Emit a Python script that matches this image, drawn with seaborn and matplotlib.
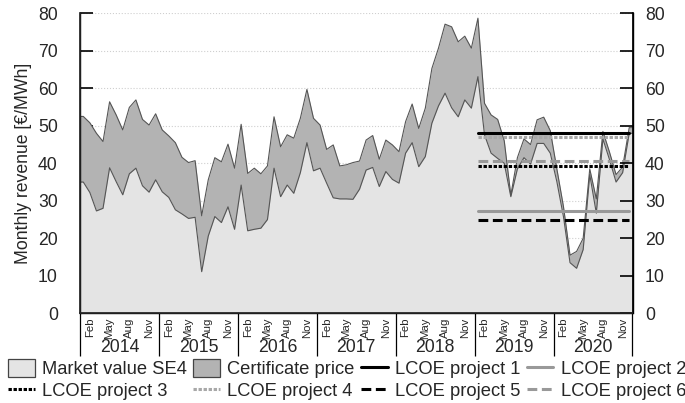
import numpy as np
import pandas as pd
import matplotlib
matplotlib.use("Agg")
import matplotlib.pyplot as plt
from matplotlib.patches import Patch
from matplotlib.lines import Line2D
import seaborn as sns

# monthly values Jan 2014 - Dec 2020 (EUR/MWh)
years = [2014, 2015, 2016, 2017, 2018, 2019, 2020]
month_labels = ["Feb", "May", "Aug", "Nov"]
month_idx = [1, 4, 7, 10]

market_value = [
    35.0, 32.2, 27.3, 28.0, 38.8, 35.1, 31.6, 37.2, 38.7, 34.0, 32.3, 35.6,
    32.4, 30.9, 27.6, 26.5, 25.3, 25.6, 11.1, 20.6, 25.8, 24.2, 28.4, 22.4,
    34.2, 22.0, 22.4, 22.7, 25.0, 38.7, 31.1, 34.2, 32.0, 37.5, 45.5, 38.0,
    38.7, 34.7, 30.8, 30.5, 30.5, 30.4, 33.1, 38.2, 38.9, 33.8, 37.8, 35.7,
    34.7, 42.7, 45.5, 39.1, 41.8, 50.7, 55.3, 58.7, 54.8, 52.4, 56.9, 54.7,
    63.1, 47.6, 42.7, 41.3, 40.0, 31.1, 38.5, 41.5, 39.8, 45.3, 45.3, 42.7,
    35.1, 25.8, 13.5, 12.0, 17.0, 37.0, 26.7, 46.5, 41.0, 35.0, 37.5, 48.0,
]
# market value + certificate price (top of stacked area)
total_value = [
    52.5, 50.8, 48.0, 45.8, 56.4, 52.9, 48.9, 54.9, 56.9, 51.7, 50.2, 53.2,
    48.9, 47.3, 45.5, 41.6, 40.2, 40.7, 26.0, 35.6, 41.5, 40.4, 45.1, 38.7,
    50.4, 37.3, 38.7, 37.2, 39.3, 52.4, 44.4, 47.6, 46.7, 52.0, 59.7, 52.0,
    50.2, 43.7, 44.9, 39.3, 39.6, 40.2, 40.6, 46.2, 47.4, 41.1, 46.2, 44.9,
    43.1, 51.1, 55.8, 49.3, 54.7, 65.3, 70.7, 77.1, 76.4, 72.4, 73.9, 70.7,
    78.7, 56.0, 52.9, 51.7, 46.0, 31.5, 41.5, 46.5, 45.0, 51.6, 52.3, 48.7,
    38.5, 28.5, 15.5, 16.5, 20.0, 38.5, 30.5, 48.5, 43.0, 37.0, 39.0, 49.5,
]

lcoe_names = ["LCOE project 1", "LCOE project 2", "LCOE project 3",
              "LCOE project 4", "LCOE project 5", "LCOE project 6"]
lcoe_values = [48.0, 27.4, 39.4, 47.1, 25.0, 40.5]
lcoe_start_year = 2019

lcoe_colors = {"LCOE project 1": "black", "LCOE project 2": "#999999",
               "LCOE project 3": "black", "LCOE project 4": "#a8a8a8",
               "LCOE project 5": "black", "LCOE project 6": "#999999"}
lcoe_dashes = {"LCOE project 1": "", "LCOE project 2": "",
               "LCOE project 3": (1.1, 0.55), "LCOE project 4": (1.1, 0.55),
               "LCOE project 5": (3.2, 1.5), "LCOE project 6": (3.2, 1.5)}

sns.set_theme(style="white")
plt.rcParams["font.family"] = ["Liberation Sans", "DejaVu Sans"]
FS = 12.7

n = len(market_value)
x = np.arange(n) + 0.5
mv = np.array(market_value)
tv = np.array(total_value)
# carry the end values out to the axis edges
xf = np.r_[0, x, n]
mvf = np.r_[mv[0], mv, mv[-1]]
tvf = np.r_[tv[0], tv, tv[-1]]

fig = plt.figure(figsize=(6.85, 4.03), dpi=100)
ax = fig.add_axes([80 / 685, 1 - 313.3 / 403, 552.5 / 685, 300 / 403])

light, dark, edge = "#e4e4e4", "#b3b3b3", "#555555"
ax.fill_between(xf, 0, mvf, color=light, lw=0)
ax.fill_between(xf, mvf, tvf, color=dark, lw=0)
sns.lineplot(x=xf, y=mvf, color=edge, lw=0.8, ax=ax)
sns.lineplot(x=xf, y=tvf, color=edge, lw=0.8, ax=ax)

start = years.index(lcoe_start_year) * 12 + 0.5
lcoe = pd.DataFrame({
    "x": np.tile([start, n - 0.5], len(lcoe_names)),
    "value": np.repeat(lcoe_values, 2),
    "project": np.repeat(lcoe_names, 2),
})
sns.lineplot(data=lcoe, x="x", y="value", hue="project", style="project",
             palette=lcoe_colors, dashes=lcoe_dashes, lw=2.2, ax=ax, legend=False)

ax.set_xlim(0, n)
ax.set_ylim(0, 80)
ax.set_yticks(range(0, 81, 10))
ax.yaxis.grid(True, ls=":", color="#cfcfcf", lw=0.8)
ax.set_axisbelow(True)
ax.tick_params(axis="y", direction="in", length=9.5, width=1.2, color="black",
               labelsize=FS, pad=16)
ax.set_ylabel("Monthly revenue [€/MWh]", fontsize=FS)
ax.yaxis.set_label_coords(-0.086, 0.5)
ax.set_xlabel("")
for s in ["left", "right", "bottom"]:
    ax.spines[s].set_color("black")
    ax.spines[s].set_linewidth(1.0)
ax.spines["top"].set_visible(False)

ax2 = ax.twinx()
ax2.set_ylim(0, 80)
ax2.set_yticks(range(0, 81, 10))
ax2.tick_params(axis="y", direction="in", length=9.5, width=1.2, color="black",
                labelsize=FS, pad=9)
ax2.spines["top"].set_visible(False)
ax2.spines["right"].set_color("black")
ax2.grid(False)

# month labels + monthly ticks
mt = [y * 12 + m + 0.5 for y in range(len(years)) for m in month_idx]
ax.set_xticks(mt)
ax.set_xticklabels(month_labels * len(years), rotation=90, fontsize=8.2)
ax.set_xticks(np.arange(0, n + 1), minor=True)
ax.tick_params(axis="x", which="major", length=0, pad=3)
ax.tick_params(axis="x", which="minor", direction="in", length=4, width=0.8,
               color="#333333", bottom=True)

# year labels + separators
sec = ax.secondary_xaxis("bottom")
sec.set_xticks(np.arange(0, n + 1, 12))
sec.set_xticklabels([])
sec.set_xticks(np.arange(6, n, 12), minor=True)
sec.set_xticklabels([str(y) for y in years], minor=True, fontsize=FS)
sec.tick_params(axis="x", which="major", direction="out", length=31, width=0.9,
                color="black")
sec.tick_params(axis="x", which="minor", length=0, pad=18.5)
sec.spines["bottom"].set_visible(False)

hnd = {
    "Market value SE4": Patch(facecolor=light, edgecolor="#444444", lw=0.9),
    "Certificate price": Patch(facecolor=dark, edgecolor="#444444", lw=0.9),
}
for name in lcoe_names:
    d = lcoe_dashes[name]
    ls = "-" if d == "" else (0, d)
    hnd[name] = Line2D([], [], color=lcoe_colors[name], lw=2.2, ls=ls)
order = ["Market value SE4", "LCOE project 3", "Certificate price", "LCOE project 4",
         "LCOE project 1", "LCOE project 5", "LCOE project 2", "LCOE project 6"]
fig.legend([hnd[k] for k in order], order, ncol=4, loc="lower left",
           bbox_to_anchor=(0.008, 0.0), frameon=False, fontsize=13.2,
           handlelength=1.45, handleheight=1.1, handletextpad=0.4,
           columnspacing=0.35, labelspacing=0.15, borderaxespad=0.05, borderpad=0.1)

fig.savefig("out.png", dpi=100)
